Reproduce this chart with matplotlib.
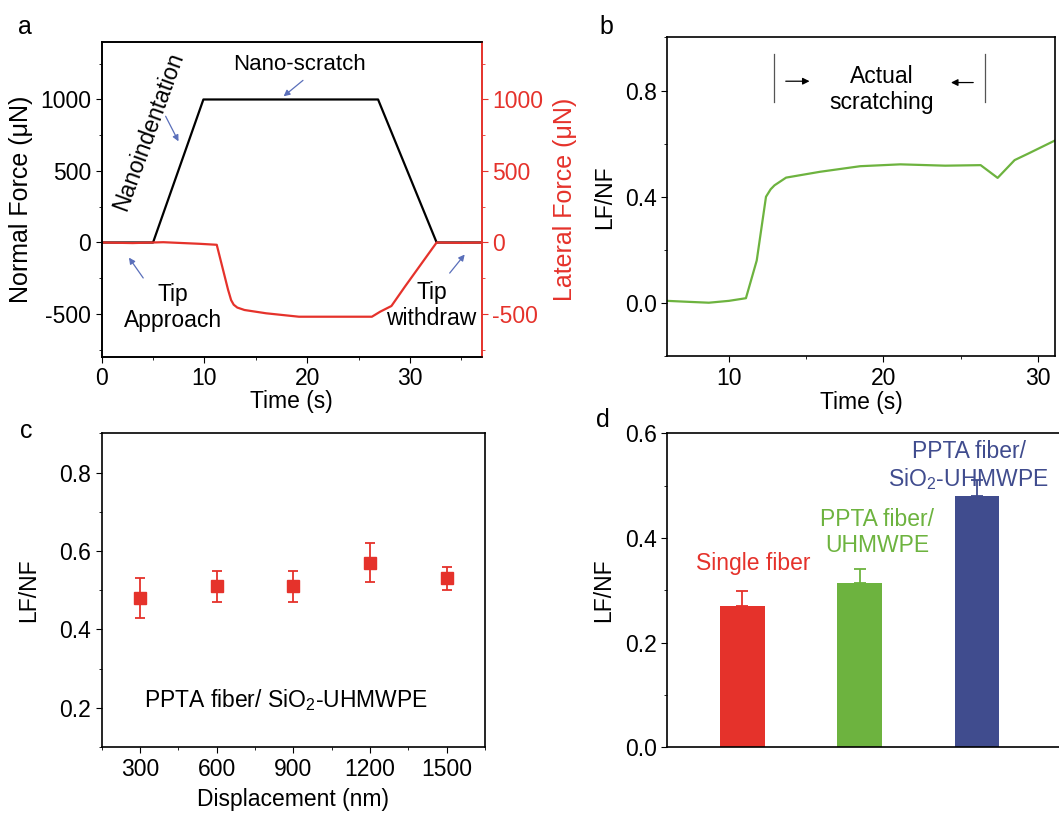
import matplotlib.pyplot as plt
from matplotlib.ticker import MultipleLocator

plt.rcParams['font.family'] = ['Liberation Sans', 'DejaVu Sans']
plt.rcParams['mathtext.default'] = 'regular'
plt.rcParams['axes.unicode_minus'] = False
plt.rcParams['font.size'] = 16.5
plt.rcParams['axes.linewidth'] = 1.2
plt.rcParams['xtick.major.size'] = 4
plt.rcParams['ytick.major.size'] = 4
plt.rcParams['xtick.minor.size'] = 2.5
plt.rcParams['ytick.minor.size'] = 2.5

RED = '#e5322b'
GREEN = '#6db33f'
BLUE = '#404c8e'
ARROW = '#5a6fba'

# panel a: normal force (black) and lateral force (red) vs time
normal_t = [0, 5.0, 9.9, 26.9, 32.6, 37]
normal_f = [0, 0, 1000, 1000, 0, 0]
lateral_t = [0, 3, 6, 9.5, 11.2, 12.3, 12.6, 12.85, 13.2, 13.9, 16.0, 19.2, 22.4, 26.3, 27.1, 28.2, 29.5, 32.6, 35, 37]
lateral_f = [0, -4, 2, -9, -16, -330, -403, -435, -455, -472, -495, -519, -519, -519, -484, -444, -310, 0, -3, 0]

# panel b: LF/NF vs time
ratio_t = [6.0, 7.5, 8.7, 10.0, 11.1, 11.8, 12.4, 12.7, 12.95, 13.7, 15.9, 18.5, 21.1, 24.0, 26.3, 27.4, 28.5, 29.4, 31.4]
ratio = [0.008, 0.004, 0.001, 0.008, 0.018, 0.16, 0.40, 0.428, 0.443, 0.472, 0.494, 0.515, 0.522, 0.517, 0.519, 0.471, 0.538, 0.563, 0.62]

# panel c: LF/NF vs displacement
displacement = [300, 600, 900, 1200, 1500]
ratio_disp = [0.48, 0.51, 0.51, 0.57, 0.53]
ratio_disp_err = [0.05, 0.04, 0.04, 0.05, 0.03]

# panel d: LF/NF per sample
samples = [1, 2, 3]
sample_ratio = [0.27, 0.313, 0.48]
sample_err = [0.028, 0.027, 0.03]
sample_colors = [RED, GREEN, BLUE]

fig = plt.figure(figsize=(10.59, 8.13), dpi=100)

# ---- a ----
ax = fig.add_axes([0.096, 0.561, 0.359, 0.387])
ax.plot(normal_t, normal_f, color='black', lw=1.6)
ax.plot(lateral_t, lateral_f, color=RED, lw=1.6)
ax.set_xlim(0, 37)
ax.set_ylim(-800, 1400)
ax.set_yticks([-500, 0, 500, 1000])
ax.xaxis.set_minor_locator(MultipleLocator(5))
ax.yaxis.set_minor_locator(MultipleLocator(250))
ax.set_xlabel('Time (s)', labelpad=0)
ax.set_ylabel('Normal Force (μN)', labelpad=5, fontsize=18)
ax.spines['right'].set_color(RED)
ax2 = ax.twinx()
ax2.set_ylim(-800, 1400)
ax2.set_yticks([-500, 0, 500, 1000])
ax2.yaxis.set_minor_locator(MultipleLocator(250))
ax2.tick_params(axis='y', which='both', colors=RED)
ax2.spines['right'].set_color(RED)
ax2.spines['right'].set_linewidth(1.2)
ax2.set_ylabel('Lateral Force (μN)', color=RED, labelpad=7, fontsize=18)
ax.tick_params(axis='y', which='both', right=False)

arrowprops = dict(arrowstyle='-|>', color=ARROW, lw=0.9, mutation_scale=9)
ax.text(4.6, 780, 'Nanoindentation', rotation=70, ha='center', va='center', fontsize=16.5)
ax.annotate('', xy=(7.6, 690), xytext=(6.1, 900), arrowprops=arrowprops)
ax.text(19.3, 1243, 'Nano-scratch', ha='center', va='center', fontsize=16)
ax.annotate('', xy=(17.5, 1010), xytext=(19.8, 1146), arrowprops=arrowprops)
ax.text(6.9, -455, 'Tip\nApproach', ha='center', va='center', fontsize=16.5, linespacing=1.15)
ax.annotate('', xy=(2.5, -90), xytext=(4.2, -264), arrowprops=arrowprops)
ax.text(32.1, -440, 'Tip\nwithdraw', ha='center', va='center', fontsize=16.5, linespacing=1.15)
ax.annotate('', xy=(35.5, -69), xytext=(33.7, -229), arrowprops=arrowprops)
fig.text(0.017, 0.967, 'a', fontsize=18, va='center')

# ---- b ----
ax = fig.add_axes([0.630, 0.562, 0.366, 0.392])
ax.plot(ratio_t, ratio, color=GREEN, lw=1.6)
ax.set_xlim(6, 31.1)
ax.set_ylim(-0.2, 1.0)
ax.set_xticks([10, 20, 30])
ax.set_yticks([0.0, 0.4, 0.8])
ax.yaxis.set_major_formatter(plt.FormatStrFormatter('%.1f'))
ax.xaxis.set_minor_locator(MultipleLocator(5))
ax.yaxis.set_minor_locator(MultipleLocator(0.2))
ax.set_xlabel('Time (s)', labelpad=1)
ax.set_ylabel('LF/NF', labelpad=6)
ax.plot([12.9, 12.9], [0.755, 0.936], color='#555555', lw=0.9)
ax.plot([26.6, 26.6], [0.755, 0.936], color='#555555', lw=0.9)
ax.annotate('', xy=(15.4, 0.835), xytext=(13.5, 0.835),
            arrowprops=dict(arrowstyle='-|>', color='black', lw=0.9, mutation_scale=10))
ax.annotate('', xy=(24.2, 0.83), xytext=(26.0, 0.83),
            arrowprops=dict(arrowstyle='-|>', color='black', lw=0.9, mutation_scale=10))
ax.text(19.9, 0.805, 'Actual\nscratching', ha='center', va='center', fontsize=16.5, linespacing=1.15)
fig.text(0.566, 0.967, 'b', fontsize=18, va='center')

# ---- c ----
ax = fig.add_axes([0.096, 0.081, 0.362, 0.386])
ax.errorbar(displacement, ratio_disp, yerr=ratio_disp_err, fmt='s', color=RED,
            ms=9, capsize=3.5, elinewidth=1.3, capthick=1.3)
ax.set_xlim(150, 1650)
ax.set_ylim(0.1, 0.9)
ax.set_xticks(displacement)
ax.set_yticks([0.2, 0.4, 0.6, 0.8])
ax.xaxis.set_minor_locator(MultipleLocator(150))
ax.yaxis.set_minor_locator(MultipleLocator(0.1))
ax.set_xlabel('Displacement (nm)', labelpad=5)
ax.set_ylabel('LF/NF', labelpad=14)
ax.text(870, 0.22, 'PPTA fiber/ SiO$_2$-UHMWPE', ha='center', va='center', fontsize=16.5)
fig.text(0.019, 0.47, 'c', fontsize=18, va='center')

# ---- d ----
ax = fig.add_axes([0.630, 0.081, 0.37, 0.386])
ax.bar(samples, sample_ratio, width=0.38, color=sample_colors)
for x, v, e, c in zip(samples, sample_ratio, sample_err, sample_colors):
    ax.errorbar([x], [v], yerr=[[0], [e]], fmt='none', ecolor=c, capsize=4,
                elinewidth=1.3, capthick=1.3)
ax.set_xlim(0.36, 3.70)
ax.set_ylim(0, 0.6)
ax.set_xticks([])
ax.set_yticks([0.0, 0.2, 0.4, 0.6])
ax.yaxis.set_major_formatter(plt.FormatStrFormatter('%.1f'))
ax.yaxis.set_minor_locator(MultipleLocator(0.1))
ax.spines['right'].set_visible(False)
ax.set_ylabel('LF/NF', labelpad=7)
ax.text(1.09, 0.352, 'Single fiber', color=RED, ha='center', va='center', fontsize=16.5)
ax.text(2.15, 0.41, 'PPTA fiber/\nUHMWPE', color=GREEN, ha='center', va='center',
        fontsize=16.5, linespacing=1.15)
ax.text(2.93, 0.538, 'PPTA fiber/\nSiO$_2$-UHMWPE', color=BLUE, ha='center', va='center',
        fontsize=16.5, linespacing=1.15)
fig.text(0.563, 0.483, 'd', fontsize=18, va='center')

fig.savefig('out.png', dpi=100)
